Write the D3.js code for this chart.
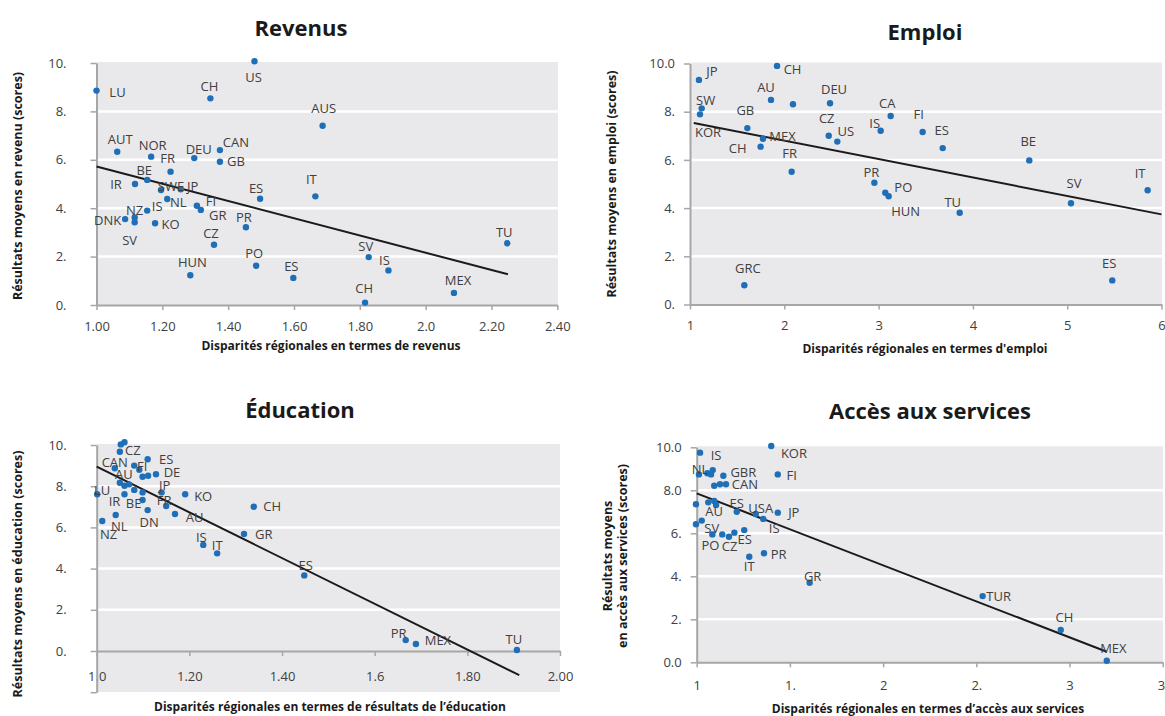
<!DOCTYPE html>
<html lang="fr">
<head>
<meta charset="utf-8">
<title>Disparités régionales et résultats moyens</title>
<script src="https://cdn.jsdelivr.net/npm/d3@7"></script>
<style>
  html, body { margin: 0; padding: 0; background: #ffffff; }
  svg { display: block; }
  text { font-family: 'Open Sans', sans-serif; }
</style>
</head>
<body>
<svg id="chart" width="1165" height="716"></svg>
<script>
// ---------- Revenus ----------
const revenusPays = ["LU","US","CH","AUS","AUT","NOR","DEU","CAN","GB","FR","BE","IR","SWE","JP","NL","FI","GR","IS","NZ","DNK","SV","KO","CZ","ES","IT","PR","HUN","PO","ES","SV","IS","CH","MEX","TU"];
const revenusX = [1.00,1.48,1.346,1.687,1.063,1.166,1.297,1.375,1.375,1.225,1.154,1.117,1.196,1.256,1.215,1.305,1.317,1.154,1.116,1.087,1.116,1.178,1.357,1.497,1.665,1.454,1.285,1.485,1.598,1.827,1.887,1.816,2.086,2.248];
const revenusY = [8.86,10.07,8.54,7.41,6.33,6.13,6.07,6.40,5.92,5.51,5.17,5.00,4.75,4.78,4.38,4.10,3.93,3.90,3.62,3.55,3.42,3.38,2.49,4.39,4.49,3.21,1.23,1.62,1.12,1.98,1.43,0.10,0.50,2.55];
const revenusTendance = [[1.0, 5.72], [2.25, 1.27]];
const revenusXTicks = [1.0,1.2,1.4,1.6,1.8,2.0,2.2,2.4];
const revenusXLabels = ["1.00","1.20","1.40","1.60","1.80","2.0","2.20","2.40"];
const revenusYTicks = [0,2,4,6,8,10];
const revenusYLabels = ["0.","2.","4.","6.","8.","10."];

// ---------- Emploi ----------
const emploiPays = ["JP","CH","AU","","DEU","SW","KOR","GB","MEX","CH","FR","CZ","US","IS","PR","GRC","CA","FI","ES","BE","IT","SV","TU","PO","HUN","ES"];
const emploiX = [1.095,1.923,1.859,2.092,2.485,1.124,1.106,1.608,1.774,1.749,2.078,2.471,2.562,3.022,2.955,1.576,3.128,3.467,3.680,4.598,5.853,5.040,3.860,3.071,3.107,5.478];
const emploiY = [9.32,9.90,8.49,8.31,8.35,8.14,7.89,7.32,6.88,6.55,5.51,7.00,6.76,7.21,5.05,0.80,7.82,7.16,6.49,5.98,4.74,4.20,3.81,4.64,4.49,1.00];
const emploiTendance = [[1.04, 7.53], [6.0, 3.74]];
const emploiXTicks = [1,2,3,4,5,6];
const emploiXLabels = ["1","2","3","4","5","6"];
const emploiYTicks = [0,2,4,6,8,10];
const emploiYLabels = ["0.","2.","4.","6.","8.","10.0"];

// ---------- Éducation ----------
const educationPays = ["","","CZ","CAN","FI","","ES","","","DE","AU","","","LU","IR","","","JP","KO","BE","FR","AU","DN","NL","NZ","IS","IT","CH","GR","ES","PR","MEX","TU"];
const educationX = [1.052,1.060,1.050,1.039,1.081,1.092,1.110,1.099,1.111,1.128,1.050,1.060,1.070,1.001,1.060,1.081,1.099,1.140,1.191,1.099,1.150,1.169,1.110,1.041,1.012,1.230,1.260,1.339,1.318,1.448,1.667,1.689,1.907];
const educationY = [10.03,10.13,9.67,8.87,9.00,8.80,9.31,8.46,8.51,8.58,8.17,8.02,8.09,7.61,7.61,7.82,7.70,7.70,7.61,7.33,7.04,6.65,6.84,6.60,6.31,5.15,4.74,7.00,5.68,3.67,0.53,0.34,0.05];
const educationTendance = [[1.0, 8.95], [1.912, -1.17]];
const educationXTicks = [1.0,1.2,1.4,1.6,1.8,2.0];
const educationXLabels = ["1.0","1.20","1.40","1.6","1.80","2.00"];
const educationYTicks = [-2,0,2,4,6,8,10];
const educationYLabels = ["","0.","2.","4.","6.","8.","10."];

// ---------- Accès aux services ----------
const servicesPays = ["IS","KOR","NL","","","","GBR","FI","","","CAN","","","","AU","ES","USA","IS","JP","","SV","PO","","CZ","","ES","IT","PR","GR","TUR","CH","MEX"];
const servicesX = [1.018,1.400,1.012,1.057,1.077,1.086,1.143,1.435,1.094,1.125,1.157,0.996,1.062,1.094,1.104,1.215,1.317,1.357,1.435,0.996,1.027,1.084,1.137,1.173,1.202,1.255,1.282,1.361,1.606,2.534,2.953,3.200];
const servicesY = [9.75,10.06,8.74,8.79,8.74,8.94,8.68,8.74,8.21,8.28,8.28,7.35,7.44,7.50,7.32,7.00,6.90,6.67,6.96,6.42,6.59,5.95,5.95,5.84,6.03,6.15,4.91,5.07,3.70,3.08,1.50,0.07];
const servicesTendance = [[1.0, 7.86], [3.2, 0.49]];
const servicesXTicks = [1,1.5,2,2.5,3,3.5];
const servicesXLabels = ["1","1.","2","2.","3","3."];
const servicesYTicks = [0,2,4,6,8,10];
const servicesYLabels = ["0.0","2.","4.","6.","8.0","10.0"];

// Label placement: offset (px) of each label's centre from its point
const revenusOffsets = [[21,2],[-1,16],[-1,-12],[1,-17],[3,-12],[1.5,-11],[4.5,-9],[16,-8],[16,0],[-3,-13],[-3,-9],[-19,0],[10,-4],[12,-3],[11,3],[14,-4],[17,6],[10,-4],[0,-7],[-17.5,1],[-5,18],[15.5,1],[-3,-11],[-4,-10],[-4,-17],[-2,-10],[2,-13],[-2,-12],[-2,-11],[-3,-11],[-4,-10],[-1,-14],[4,-13],[-3,-11]];
const emploiOffsets = [[13,-8],[15.5,3],[-5,-12],[0,0],[4,-14],[4,-8],[8,18],[-2,-18],[19.5,-2],[-23,2],[-2,-18],[-2,-17],[8.5,-10],[-6,-7],[-3,-10],[3.5,-17],[-3.5,-13],[-4,-18],[-1,-18],[-1,-18.5],[-7.5,-17],[3,-20],[-7,-10],[18,-5],[17,15],[-3,-17]];
const educationOffsets = [[0,0],[0,0],[13,-1],[0,-6],[8,1],[0,0],[18.6,0],[0,0],[0,0],[16,-2],[4,-8],[0,0],[0,0],[5,-4],[-10,7],[0,0],[0,0],[3,-7],[18,2],[-9,3],[-2,-6],[19.7,3.7],[1.5,12],[3.6,11.7],[6.4,13.3],[-2,-8],[0,-8],[18.5,-0.7],[19.7,0],[1.5,-9.6],[-7,-7],[22,-4],[-3,-11]];
const servicesOffsets = [[16,2.3],[22.7,7.3],[1,-5],[0,0],[0,0],[0,0],[20,-3],[14,1],[0,0],[0,0],[19,0],[0,0],[0,0],[0,0],[-2,6.7],[0,-8],[5,-6],[11,9.3],[16,0],[0,0],[10,7.6],[-2,10.7],[0,0],[0.7,10],[0,0],[0.4,9.3],[0,9.3],[14.7,1],[3,-6],[16,0],[3.6,-12.3],[6.6,-12.4]];

const svg = d3.select("#chart");

const C = {
  bg: "#e9e9eb",
  grid: "#ffffff",
  axis: "#a6a6a6",
  point: "#1f6fb8",
  trend: "#1a1a1a",
  label: "#404040",
  title: "#1a1a1a"
};

function drawPanel(p) {
  const g = svg.append("g");
  const x = d3.scaleLinear().domain(p.xDomain).range(p.xRange);
  const y = d3.scaleLinear().domain(p.yDomain).range(p.yRange);

  // plot background
  g.append("rect")
    .attr("x", p.xRange[0]).attr("y", y(p.yDomain[1]) - 1)
    .attr("width", p.bgRight - p.xRange[0])
    .attr("height", p.bgBottom - (y(p.yDomain[1]) - 1))
    .attr("fill", C.bg);

  // horizontal gridlines
  g.selectAll(".grid")
    .data(p.yTicks.filter(v => v > 0 && v < p.yDomain[1]))
    .join("line")
    .attr("x1", p.xRange[0]).attr("x2", p.bgRight)
    .attr("y1", d => y(d)).attr("y2", d => y(d))
    .attr("stroke", C.grid).attr("stroke-width", 2.5);

  // x axis, crossing at y = 0
  const xAxis = d3.axisBottom(x)
    .tickValues(p.xTicks)
    .tickFormat((d, i) => p.xLabels[i])
    .tickSize(5).tickSizeOuter(0);
  const gx = g.append("g").attr("transform", `translate(0,${y(0)})`).call(xAxis);
  gx.select(".domain").attr("stroke", C.axis).attr("stroke-width", 2);
  gx.selectAll(".tick line").attr("stroke", C.axis).attr("stroke-width", 1.5);
  gx.selectAll(".tick text")
    .attr("y", p.xLabelGap).attr("dy", "0.35em")
    .attr("fill", C.label).style("font-size", "13px");

  // y axis
  const yAxis = d3.axisLeft(y)
    .tickValues(p.yTicks)
    .tickFormat((d, i) => p.yLabels[i])
    .tickSize(6).tickSizeOuter(0);
  const gy = g.append("g").attr("transform", `translate(${p.xRange[0]},0)`).call(yAxis);
  gy.select(".domain").attr("stroke", C.axis).attr("stroke-width", 2);
  gy.selectAll(".tick line").attr("stroke", C.axis).attr("stroke-width", 1.5);
  gy.selectAll(".tick text")
    .attr("x", -p.yLabelGap)
    .attr("fill", C.label).style("font-size", "13px");

  // trend line
  g.append("path")
    .datum(p.trend)
    .attr("d", d3.line().x(d => x(d[0])).y(d => y(d[1])))
    .attr("fill", "none").attr("stroke", C.trend).attr("stroke-width", 2);

  // points
  const rows = p.names.map((n, i) => ({ n, x: p.xs[i], y: p.ys[i], o: p.offsets[i] }));
  g.selectAll(".pt")
    .data(rows)
    .join("circle")
    .attr("cx", d => x(d.x)).attr("cy", d => y(d.y))
    .attr("r", 3.2).attr("fill", C.point);

  // point labels
  g.selectAll(".lbl")
    .data(rows.filter(d => d.n !== ""))
    .join("text")
    .attr("x", d => x(d.x) + d.o[0])
    .attr("y", d => y(d.y) + d.o[1] + 4.6)
    .attr("text-anchor", "middle")
    .attr("fill", C.label)
    .style("font-size", "13px")
    .text(d => d.n);

  // chart title
  g.append("text")
    .attr("x", p.title.x).attr("y", p.title.y)
    .attr("text-anchor", "middle")
    .attr("fill", C.title)
    .style("font-size", "22px").style("font-weight", "700")
    .text(p.title.text);

  // x axis title
  g.append("text")
    .attr("x", p.xTitle.x).attr("y", p.xTitle.y)
    .attr("text-anchor", "middle")
    .attr("fill", C.title)
    .style("font-size", "12px").style("font-weight", "700")
    .text(p.xTitle.text);

  // y axis title (one or more lines)
  p.yTitle.lines.forEach((line, i) => {
    const cx = p.yTitle.x + i * p.yTitle.lineStep;
    g.append("text")
      .attr("transform", `translate(${cx},${p.yTitle.y}) rotate(-90)`)
      .attr("text-anchor", "middle")
      .attr("dy", "0.35em")
      .attr("fill", C.title)
      .style("font-size", "12.5px").style("font-weight", "700")
      .text(line);
  });
}

drawPanel({
  names: revenusPays, xs: revenusX, ys: revenusY, offsets: revenusOffsets, trend: revenusTendance,
  xDomain: [1.0, 2.4], xRange: [96.5, 557.3], yDomain: [0, 10], yRange: [305, 63],
  bgRight: 558, bgBottom: 305,
  xTicks: revenusXTicks, xLabels: revenusXLabels, yTicks: revenusYTicks, yLabels: revenusYLabels,
  xLabelGap: 21, yLabelGap: 30,
  title: { text: "Revenus", x: 301, y: 36 },
  xTitle: { text: "Disparités régionales en termes de revenus", x: 331, y: 350 },
  yTitle: { lines: ["Résultats moyens en revenu (scores)"], x: 18, y: 186, lineStep: 0 }
});

drawPanel({
  names: emploiPays, xs: emploiX, ys: emploiY, offsets: emploiOffsets, trend: emploiTendance,
  xDomain: [1, 6], xRange: [690, 1161.5], yDomain: [0, 10], yRange: [304.5, 63.5],
  bgRight: 1162, bgBottom: 304.5,
  xTicks: emploiXTicks, xLabels: emploiXLabels, yTicks: emploiYTicks, yLabels: emploiYLabels,
  xLabelGap: 21, yLabelGap: 15,
  title: { text: "Emploi", x: 925, y: 40 },
  xTitle: { text: "Disparités régionales en termes d'emploi", x: 925, y: 353 },
  yTitle: { lines: ["Résultats moyens  en emploi (scores)"], x: 612, y: 184, lineStep: 0 }
});

drawPanel({
  names: educationPays, xs: educationX, ys: educationY, offsets: educationOffsets, trend: educationTendance,
  xDomain: [1.0, 2.0], xRange: [96.7, 560], yDomain: [-2, 10], yRange: [692.2, 445],
  bgRight: 560, bgBottom: 692,
  xTicks: educationXTicks, xLabels: educationXLabels, yTicks: educationYTicks, yLabels: educationYLabels,
  xLabelGap: 25, yLabelGap: 30,
  title: { text: "Éducation", x: 300, y: 418 },
  xTitle: { text: "Disparités régionales en termes de résultats de l’éducation", x: 330, y: 711 },
  yTitle: { lines: ["Résultats moyens en éducation (scores)"], x: 18, y: 574, lineStep: 0 }
});

drawPanel({
  names: servicesPays, xs: servicesX, ys: servicesY, offsets: servicesOffsets, trend: servicesTendance,
  xDomain: [1, 3.5], xRange: [696.7, 1162.7], yDomain: [0, 10], yRange: [662.3, 447.3],
  bgRight: 1163, bgBottom: 662.3,
  xTicks: servicesXTicks, xLabels: servicesXLabels, yTicks: servicesYTicks, yLabels: servicesYLabels,
  xLabelGap: 23, yLabelGap: 15,
  title: { text: "Accès aux services", x: 930, y: 419 },
  xTitle: { text: "Disparités régionales en termes d’accès aux services", x: 928, y: 713 },
  yTitle: { lines: ["Résultats moyens", "en accès aux services (scores)"], x: 608, y: 556, lineStep: 15 }
});
</script>
</body>
</html>
